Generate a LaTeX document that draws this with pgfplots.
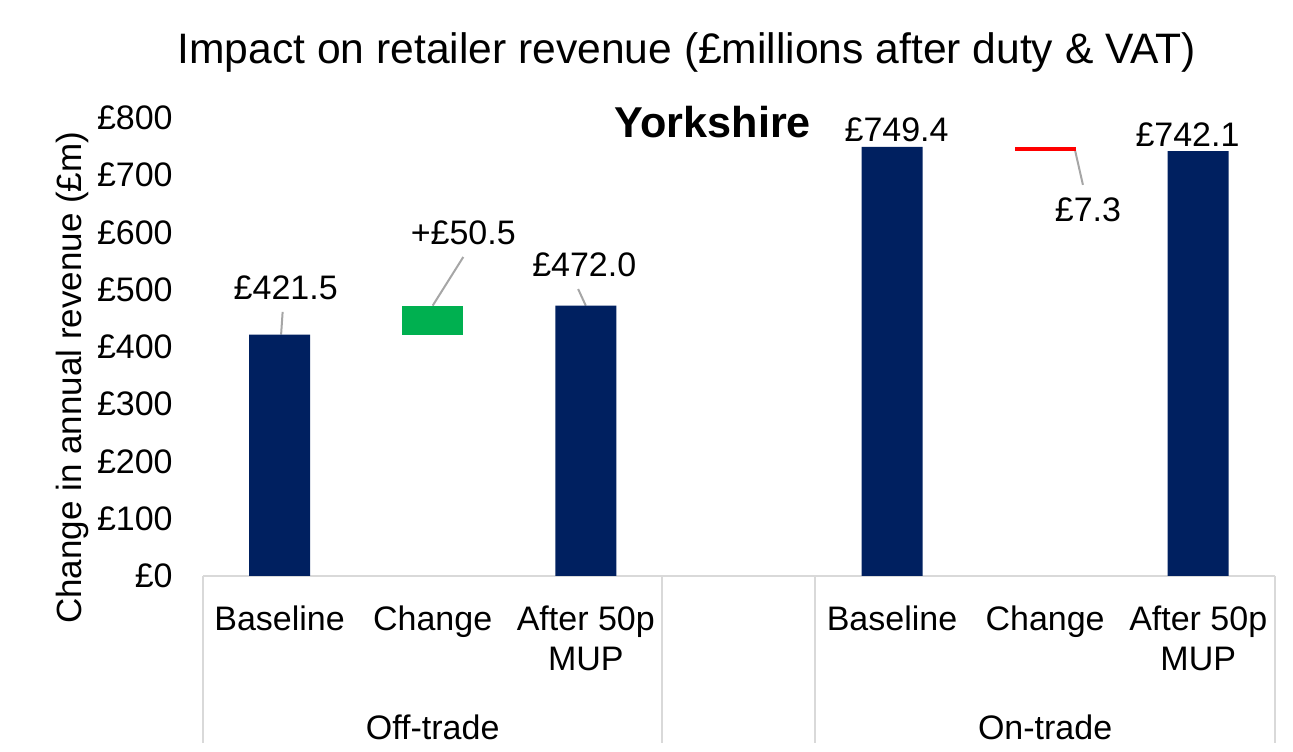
\documentclass[border=0pt]{standalone}
\usepackage{pgfplots}
\pgfplotsset{compat=1.18}
\usepackage{fontspec}
\setmainfont{Liberation Sans}

\definecolor{navy}{HTML}{002060}
\definecolor{upgreen}{HTML}{00B050}
\definecolor{downred}{HTML}{FF0000}
\definecolor{sepgray}{HTML}{D9D9D9}
\definecolor{leadgray}{HTML}{A6A6A6}

\newcommand{\lbl}{\fontsize{17}{20}\selectfont}

\begin{document}
\begin{tikzpicture}
\begin{axis}[
    scale only axis,
    width=536pt, height=229pt,
    xmin=-0.5, xmax=6.5,
    ymin=0, ymax=800,
    ybar stacked,
    bar width=30.5pt,
    clip=false,
    axis line style={draw=none},
    major tick length=0pt,
    ytick={0,100,...,800},
    yticklabel={£\pgfmathprintnumber[assume math mode=true]{\tick}},
    yticklabel style={font=\lbl, anchor=east, inner sep=0pt, xshift=-15pt},
    xtick={0,1,2,4,5,6},
    xticklabels={Baseline, Change, {After 50p\\MUP}, Baseline, Change, {After 50p\\MUP}},
    xticklabel style={font=\lbl, align=center, anchor=north, inner sep=0pt, yshift=-15pt},
]
% invisible base for the floating change bars
\addplot[draw=none, fill=none] coordinates {(0,0) (1,421.5) (2,0) (3,0) (4,0) (5,742.1) (6,0)};
\addplot[draw=none, fill=navy] coordinates {(0,421.5) (1,0) (2,472.0) (3,0) (4,749.4) (5,0) (6,742.1)};
\addplot[draw=none, fill=upgreen] coordinates {(0,0) (1,50.5) (2,0) (3,0) (4,0) (5,0) (6,0)};
\addplot[draw=none, fill=downred] coordinates {(0,0) (1,0) (2,0) (3,0) (4,0) (5,7.3) (6,0)};

% category axis and group separators
\draw[sepgray, line width=1pt] (axis cs:-0.5,0) -- (axis cs:6.5,0);
\draw[sepgray, line width=1pt] (axis cs:-0.5,0) -- (axis cs:-0.5,-292);
\draw[sepgray, line width=1pt] (axis cs:2.5,0) -- (axis cs:2.5,-292);
\draw[sepgray, line width=1pt] (axis cs:3.5,0) -- (axis cs:3.5,-292);
\draw[sepgray, line width=1pt] (axis cs:6.5,0) -- (axis cs:6.5,-292);
\node[font=\lbl] at (axis cs:1,-265) {Off-trade};
\node[font=\lbl] at (axis cs:5,-265) {On-trade};

% data labels with leader lines
\draw[leadgray, line width=1pt] (axis cs:0.02,461) -- (axis cs:0.01,421.5);
\draw[leadgray, line width=1pt] (axis cs:1.2,557) -- (axis cs:1.0,472);
\draw[leadgray, line width=1pt] (axis cs:1.95,501) -- (axis cs:2.0,472);
\draw[leadgray, line width=1pt] (axis cs:5.195,744) -- (axis cs:5.247,683);
\node[font=\lbl] at (axis cs:0.04,503) {£421.5};
\node[font=\lbl] at (axis cs:1.2,599) {+£50.5};
\node[font=\lbl] at (axis cs:1.99,543) {£472.0};
\node[font=\lbl] at (axis cs:4.03,779) {£749.4};
\node[font=\lbl] at (axis cs:5.28,639) {£7.3};
\node[font=\lbl] at (axis cs:5.93,770) {£742.1};

\node[font=\fontsize{21.6}{24}\selectfont\bfseries] at (axis cs:2.83,793) {Yorkshire};
\node[font=\fontsize{21.3}{24}\selectfont] at (axis cs:2.66,915) {Impact on retailer revenue (£millions after duty \& VAT)};
\node[font=\fontsize{17.5}{20}\selectfont, rotate=90] at (axis cs:-1.356,346) {Change in annual revenue (£m)};

% page extent
\path (axis cs:-1.826,-307.4) rectangle (axis cs:6.619,1006);
\end{axis}
\end{tikzpicture}
\end{document}
